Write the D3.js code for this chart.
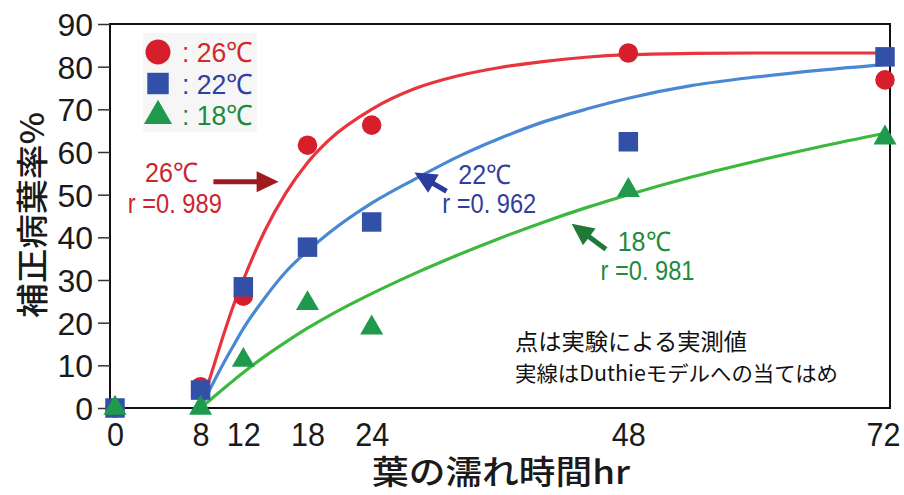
<!DOCTYPE html>
<html>
<head>
<meta charset="utf-8">
<script src="https://cdn.jsdelivr.net/npm/d3@7"></script>
<style>
  html, body { margin: 0; padding: 0; background: #ffffff; }
  svg { display: block; }
</style>
</head>
<body>
<svg id="chart" width="904" height="495"></svg>
<script>
// Observed infection rates (corrected diseased-leaf %) by leaf wetness hours
const hours = [0, 8, 12, 18, 24, 48, 72];
const obs26 = [0, 5, 26.2, 61.6, 66.3, 83.2, 76.9];
const obs22 = [0, 4.2, 28.4, 37.7, 43.6, 62.4, 82.3];
const obs18 = [0, 0, 11.2, 24.5, 18.8, 51, 63.3];

// Fitted Duthie model curves
const fitHours = [8, 9, 10, 11, 12, 14, 16, 18, 20, 24, 28, 32, 36, 40, 44, 48, 54, 60, 66, 72];
const fit26 = [0, 8, 16, 23.5, 30, 41.5, 50.5, 57.5, 62.8, 70, 74.8, 77.8, 79.8, 81.2, 82.2, 82.8, 83.1, 83.2, 83.2, 83.2];
const fit22 = [0, 5, 9.8, 14.3, 18.6, 25.8, 32, 36.8, 41, 48, 53.6, 58.8, 63.2, 67, 70, 72.6, 75.6, 77.6, 79.2, 80.5];
const fit18 = [0, 2.1, 4.2, 6.3, 8.3, 12.1, 15.5, 18.7, 21.6, 26.8, 31.5, 35.8, 39.8, 43.5, 46.9, 50, 54.2, 57.9, 61.3, 64.4];

// Axis ticks
const xTicks = [0, 8, 12, 18, 24, 48, 72];
const yTicks = [0, 10, 20, 30, 40, 50, 60, 70, 80, 90];

const svg = d3.select("#chart");
const frame = { left: 110, right: 890, top: 24, bottom: 408 };

const x = d3.scaleLinear().domain([0, 72]).range([115, 885]);
const y = d3.scaleLinear().domain([0, 90]).range([408, 24]);

const numFont = "'Liberation Sans', Arial, sans-serif";
const narrowFont = "'Liberation Sans Narrow', 'Arial Narrow', 'Liberation Sans', sans-serif";
const cjkFont = "'Noto Sans CJK JP', 'Noto Sans', sans-serif";

// Plot frame
svg.append("rect")
  .attr("x", frame.left).attr("y", frame.top)
  .attr("width", frame.right - frame.left).attr("height", frame.bottom - frame.top)
  .attr("fill", "none").attr("stroke", "#111").attr("stroke-width", 2);

// Y axis
const yAxis = svg.append("g")
  .attr("transform", `translate(${frame.left},0)`)
  .call(d3.axisLeft(y).tickValues(yTicks).tickSize(12).tickPadding(5).tickFormat(d3.format("d")));
yAxis.select(".domain").remove();
yAxis.selectAll(".tick line").attr("stroke", "#333").attr("stroke-width", 1.5);
yAxis.selectAll(".tick text")
  .attr("font-family", numFont).attr("font-size", 32).attr("fill", "#1a1a1a").attr("dy", "0.36em");

// X axis (labels only)
const xAxis = svg.append("g")
  .attr("transform", `translate(0,${frame.bottom})`)
  .call(d3.axisBottom(x).tickValues(xTicks).tickSize(0).tickPadding(14).tickFormat(d3.format("d")));
xAxis.select(".domain").remove();
xAxis.selectAll(".tick text")
  .attr("font-family", numFont).attr("font-size", 34).attr("fill", "#1a1a1a")
  .attr("textLength", d => String(d).length * 17)
  .attr("lengthAdjust", "spacingAndGlyphs")
  .attr("dx", d => d === 72 ? -2 : 0);

// Axis titles
svg.append("text")
  .attr("transform", "translate(44,215) rotate(-90)")
  .attr("text-anchor", "middle")
  .attr("font-family", cjkFont).attr("font-weight", 500).attr("font-size", 32)
  .attr("textLength", 206).attr("lengthAdjust", "spacingAndGlyphs")
  .attr("fill", "#1a1a1a")
  .text("補正病葉率%");

svg.append("text")
  .attr("x", 501).attr("y", 484)
  .attr("text-anchor", "middle")
  .attr("font-family", cjkFont).attr("font-weight", 500).attr("font-size", 33)
  .attr("textLength", 258).attr("lengthAdjust", "spacingAndGlyphs")
  .attr("fill", "#1a1a1a")
  .text("葉の濡れ時間hr");

// Fitted curves
const line = d3.line().x(d => x(d[0])).y(d => y(d[1])).curve(d3.curveMonotoneX);
const curves = [
  { vals: fit26, color: "#e8343c" },
  { vals: fit22, color: "#4a88d4" },
  { vals: fit18, color: "#3cb83c" }
];
curves.forEach(c => {
  svg.append("path")
    .datum(fitHours.map((h, i) => [h, c.vals[i]]))
    .attr("d", line)
    .attr("fill", "none").attr("stroke", c.color).attr("stroke-width", 3.2)
    .attr("stroke-linejoin", "round").attr("stroke-linecap", "round");
});

// Observed points
const series = [
  { vals: obs26, shape: d3.symbolCircle, size: 300, color: "#d71f2b" },
  { vals: obs22, shape: d3.symbolSquare, size: 380, color: "#3350a8" },
  { vals: obs18, shape: d3.symbolTriangle, size: 230, color: "#1f9a4c" }
];
series.forEach(s => {
  svg.append("g").selectAll("path")
    .data(hours.map((h, i) => [h, s.vals[i]]))
    .join("path")
    .attr("transform", d => `translate(${x(d[0])},${y(d[1])})`)
    .attr("d", d3.symbol().type(s.shape).size(s.size))
    .attr("fill", s.color);
});

// Legend
const legend = [
  { label: ": 26℃", shape: d3.symbolCircle, size: 490, mark: "#d71f2b", text: "#d12a2e" },
  { label: ": 22℃", shape: d3.symbolSquare, size: 460, mark: "#3350a8", text: "#2e40a0" },
  { label: ": 18℃", shape: d3.symbolTriangle, size: 340, mark: "#1f9a4c", text: "#1e8a3e" }
];
svg.append("rect")
  .attr("x", 143).attr("y", 33).attr("width", 114).attr("height", 99)
  .attr("fill", "#f6f6f6");
legend.forEach((l, i) => {
  const cy = 52 + i * 31.5;
  svg.append("path")
    .attr("transform", `translate(158,${cy + (i === 2 ? 1 : 0)})`)
    .attr("d", d3.symbol().type(l.shape).size(l.size))
    .attr("fill", l.mark);
  svg.append("text")
    .attr("x", 182).attr("y", cy + 10)
    .attr("font-family", narrowFont).attr("font-size", 28)
    .attr("textLength", 71).attr("lengthAdjust", "spacingAndGlyphs")
    .attr("fill", l.text)
    .text(l.label);
});

// Annotations: temperature and correlation, with arrows pointing to curves
function arrow(x0, y0, x1, y1, color, head, width, shaft) {
  const dx = x1 - x0, dy = y1 - y0;
  const len = Math.hypot(dx, dy);
  const ux = dx / len, uy = dy / len;
  const bx = x1 - ux * head, by = y1 - uy * head;
  svg.append("line")
    .attr("x1", x0).attr("y1", y0).attr("x2", bx + ux * 2).attr("y2", by + uy * 2)
    .attr("stroke", color).attr("stroke-width", shaft);
  svg.append("path")
    .attr("d", `M${x1},${y1}L${bx - uy * width / 2},${by + ux * width / 2}L${bx + uy * width / 2},${by - ux * width / 2}Z`)
    .attr("fill", color);
}

const notes = [
  { t: "26℃", r: "r =0. 989", tx: 2.8, tv: 53, rx: 1.2, rv: 45.8, color: "#cc2530",
    a: [9.2, 53, 15.3, 53], aColor: "#9e1c1f" },
  { t: "22℃", r: "r =0. 962", tx: 32.1, tv: 52.6, rx: 30.6, rv: 45.6, color: "#2f3f9c",
    a: [31.0, 50.8, 28.0, 55.2], aColor: "#2c3c9c" },
  { t: "18℃", r: "r =0. 981", tx: 47.0, tv: 36.9, rx: 45.4, rv: 29.9, color: "#1f8a3c",
    a: [45.9, 37.2, 42.7, 43.2], aColor: "#1e7a36" }
];
notes.forEach(n => {
  svg.append("text")
    .attr("x", x(n.tx)).attr("y", y(n.tv))
    .attr("font-family", narrowFont).attr("font-size", 27)
    .attr("textLength", 53).attr("lengthAdjust", "spacingAndGlyphs")
    .attr("fill", n.color).text(n.t);
  svg.append("text")
    .attr("x", x(n.rx)).attr("y", y(n.rv))
    .attr("font-family", narrowFont).attr("font-size", 27)
    .attr("textLength", 94).attr("lengthAdjust", "spacingAndGlyphs")
    .attr("fill", n.color).text(n.r);
  arrow(x(n.a[0]), y(n.a[1]), x(n.a[2]), y(n.a[3]), n.aColor, 22, 21, 5);
});

// Explanatory note
svg.append("text")
  .attr("x", 515).attr("y", 350)
  .attr("font-family", cjkFont).attr("font-size", 23)
  .attr("textLength", 232).attr("lengthAdjust", "spacingAndGlyphs")
  .attr("fill", "#111")
  .text("点は実験による実測値");
svg.append("text")
  .attr("x", 515).attr("y", 381)
  .attr("font-family", cjkFont).attr("font-size", 21)
  .attr("textLength", 323).attr("lengthAdjust", "spacingAndGlyphs")
  .attr("fill", "#111")
  .text("実線はDuthieモデルへの当てはめ");
</script>
</body>
</html>
